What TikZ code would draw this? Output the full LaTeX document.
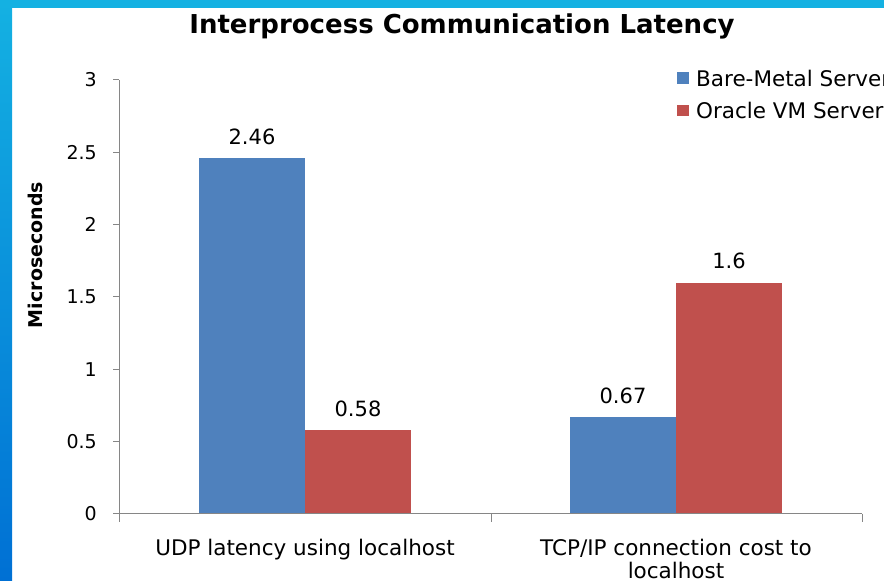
\documentclass[tikz,border=0pt]{standalone}
\usepackage{fontspec}
\setmainfont{DejaVu Sans}
\usepackage{xcolor}
\usepackage{tikz}
\definecolor{barblue}{RGB}{79,129,189}
\definecolor{barred}{RGB}{192,80,77}
\definecolor{axisgray}{RGB}{134,134,134}
\definecolor{frametop}{RGB}{20,177,226}
\definecolor{framebottom}{RGB}{0,112,212}
\usetikzlibrary{calc}

\begin{document}
\begin{tikzpicture}[x=1pt, y=1pt,
    ticklabel/.style={anchor=east, inner sep=0pt, font=\fontsize{19}{19}\selectfont},
    valuelabel/.style={anchor=base, inner sep=0pt, font=\fontsize{21}{21}\selectfont},
    catlabel/.style={anchor=north, align=center, inner sep=0pt, font=\fontsize{21.5}{23}\selectfont},
    legendlabel/.style={anchor=west, inner sep=0pt, font=\fontsize{21.5}{21.5}\selectfont},
    axisline/.style={axisgray, line width=1pt}]
    \useasboundingbox (0,0) rectangle (884,581);
    \clip (0,0) rectangle (884,581);
    % slide frame
    \shade[top color=frametop, bottom color=framebottom] (0,0) rectangle (12,581);
    \fill[frametop] (0,573) rectangle (884,581);
    % title
    \node[inner sep=0pt, font=\bfseries\fontsize{26}{26}\selectfont] (title) at (462,555) {Interprocess Communication Latency};
    % bars and their values
    \foreach \x/\v/\c in {199/2.46/barblue, 305/0.58/barred, 570/0.67/barblue, 676/1.6/barred} {
        \fill[\c] (\x,67) rectangle ({\x+106},{67+\v*144.67});
        \node[valuelabel] (val\x) at ({\x+53},{67+\v*144.67+14}) {\v};
    }
    % axes
    \draw[axisline] (119,67) -- (119,501);
    \draw[axisline] (119,67) -- (862,67);
    \foreach \t in {0,0.5,1,1.5,2,2.5,3} {
        \draw[axisline] (113,{67+\t*144.67}) -- (119,{67+\t*144.67});
        \node[ticklabel] (tick\t) at (97,{67+\t*144.67}) {\t};
    }
    \foreach \x in {119,491,862}
        \draw[axisline] (\x,67) -- (\x,59);
    \node[rotate=90, inner sep=0pt, font=\bfseries\fontsize{19}{19}\selectfont] (ylabel) at (35,326) {Microseconds};
    % categories
    \node[catlabel] (udp) at (305,42) {UDP latency using localhost};
    \node[catlabel] (tcp) at (676,42) {TCP/IP connection cost to\\localhost};
    % legend
    \fill[barblue] (677,497) rectangle (689,509);
    \node[legendlabel] (bare) at (696,503) {Bare-Metal Server};
    \fill[barred] (677,465) rectangle (689,476);
    \node[legendlabel] (ovm) at (696,471) {Oracle VM Server};
\end{tikzpicture}
\end{document}
